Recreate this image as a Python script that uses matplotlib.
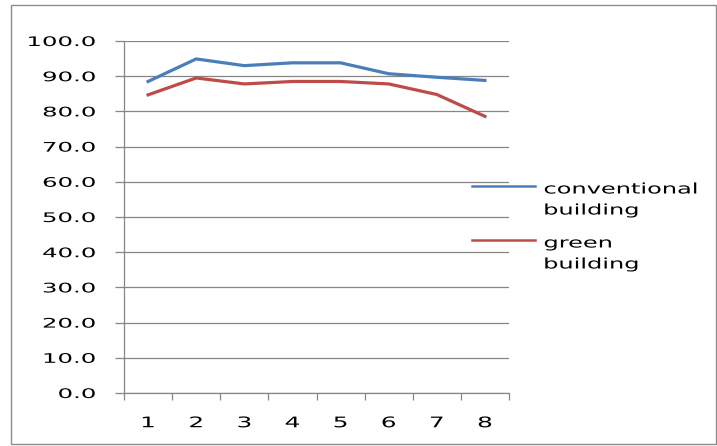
import matplotlib.pyplot as plt
import matplotlib.patheffects as patheffects
from matplotlib.lines import Line2D
from matplotlib.patches import Rectangle
from matplotlib.transforms import Affine2D

categories = [1, 2, 3, 4, 5, 6, 7, 8]
conventional = [88.5, 94.9, 93.0, 93.8, 93.8, 90.7, 89.7, 88.8]
green = [84.7, 89.5, 87.8, 88.5, 88.5, 87.8, 84.8, 78.6]
yticks = [0, 10, 20, 30, 40, 50, 60, 70, 80, 90, 100]
series_names = [['conventional', 'building'], ['green', 'building']]
series_colors = ['#4A7EBB', '#BE4B48']

grey = '#868686'
W, H = 717, 446


class Stretch(patheffects.AbstractPathEffect):
    """Draw glyphs wider, keeping the left/centre/right of the ink in place."""

    def __init__(self, sx, anchor):
        super().__init__()
        self.sx = sx
        self.anchor = anchor

    def draw_path(self, renderer, gc, tpath, affine, rgbFace=None):
        ext = tpath.get_extents()
        x0 = {'left': ext.x0, 'center': (ext.x0 + ext.x1) / 2, 'right': ext.x1}[self.anchor]
        t = Affine2D().translate(-x0, 0).scale(self.sx, 1).translate(x0, 0)
        renderer.draw_path(gc, tpath, t + affine, rgbFace)


fig = plt.figure(figsize=(W / 100, H / 100), dpi=100)
ax = fig.add_axes([124 / W, 1 - 393 / H, (509 - 124) / W, (393 - 41) / H])

for vals, names, col in zip([conventional, green], series_names, series_colors):
    ax.plot(categories, vals, color=col, lw=2.3)

ax.set_xlim(0.5, 8.5)
ax.set_ylim(0, 100)
ax.set_xticks(categories)
ax.set_xticks([c - 0.5 for c in categories] + [8.5], minor=True)
ax.set_yticks(yticks)
ax.set_yticklabels(['%.1f' % v for v in yticks])
ax.yaxis.grid(True, color=grey, lw=0.9)
ax.set_axisbelow(True)

ax.tick_params(axis='x', which='major', length=0, pad=16, labelsize=10.5)
ax.tick_params(axis='x', which='minor', length=5, color=grey, width=0.9)
ax.tick_params(axis='y', length=6.5, color=grey, width=0.9, labelsize=9.5, pad=14)
for s in ['top', 'right']:
    ax.spines[s].set_visible(False)
for s in ['left', 'bottom']:
    ax.spines[s].set_color(grey)
    ax.spines[s].set_linewidth(0.9)

for lbl in ax.get_yticklabels():
    lbl.set_path_effects([Stretch(1.85, 'right')])
for lbl in ax.get_xticklabels():
    lbl.set_path_effects([Stretch(1.7, 'center')])

# legend, drawn by hand so the key line sits level with the first text line
legend_y = [186, 240]
for ly, names, col in zip(legend_y, series_names, series_colors):
    fig.add_artist(Line2D([472 / W, 535 / W], [1 - ly / H] * 2, color=col, lw=1.8))
    for i, name in enumerate(names):
        fig.text(544 / W, 1 - (ly + 7.5 + 21 * i) / H, name, fontsize=10.5,
                 va='baseline', ha='left', path_effects=[Stretch(1.65, 'left')])

# outer chart border
fig.patches.append(Rectangle((11 / W, 2 / H), (716 - 11) / W, (444 - 4.5) / H,
                             transform=fig.transFigure, fill=False,
                             edgecolor='#8c8c8c', lw=1.0))

fig.savefig('out.png', dpi=100)
